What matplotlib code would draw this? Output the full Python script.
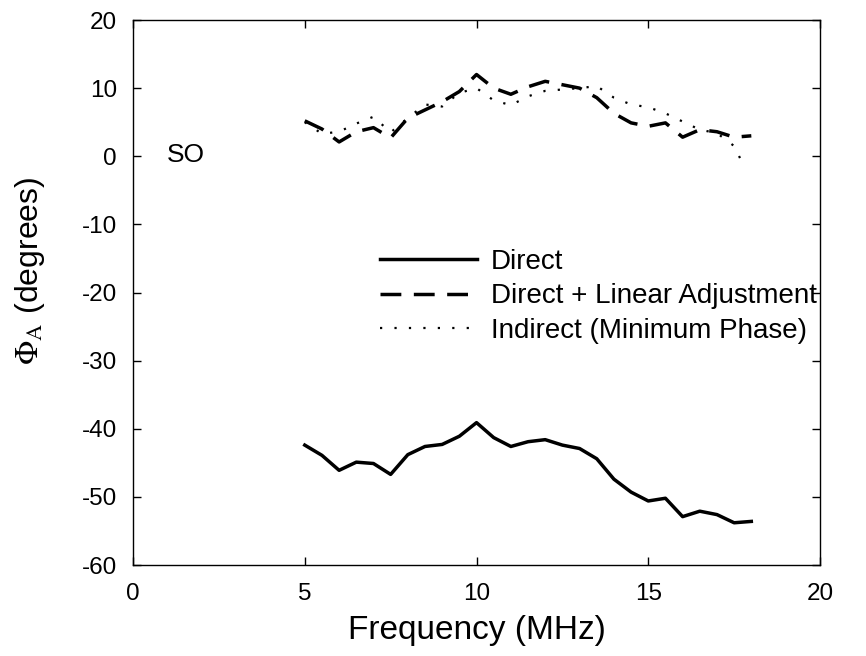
import numpy as np
import matplotlib
matplotlib.use("Agg")
import matplotlib.pyplot as plt

plt.rcParams['font.family'] = ['Liberation Sans', 'DejaVu Sans']
plt.rcParams['mathtext.fontset'] = 'stix'
plt.rcParams['axes.unicode_minus'] = False

freq = [5.0, 5.5, 6.0, 6.5, 7.0, 7.5, 8.0, 8.5, 9.0, 9.5, 10.0, 10.5, 11.0, 11.5,
        12.0, 12.5, 13.0, 13.5, 14.0, 14.5, 15.0, 15.5, 16.0, 16.5, 17.0, 17.5, 18.0]

direct = [-42.4, -43.9, -46.1, -44.9, -45.1, -46.7, -43.8, -42.6, -42.3, -41.1, -39.1,
          -41.3, -42.6, -41.9, -41.6, -42.4, -42.9, -44.4, -47.4, -49.3, -50.6, -50.2,
          -52.9, -52.1, -52.6, -53.8, -53.6]

direct_lin = [5.2, 4.0, 2.1, 3.6, 4.2, 2.7, 5.6, 6.8, 8.0, 9.5, 12.0, 10.0, 9.1, 10.2,
              11.0, 10.5, 10.0, 8.6, 6.3, 4.9, 4.4, 4.9, 2.8, 3.9, 3.6, 2.8, 3.0]

indirect_freq = [5.0, 5.5, 6.0, 6.5, 7.0, 7.5, 8.0, 8.5, 9.0, 9.5, 10.0, 10.5, 11.0, 11.5,
                 12.0, 12.5, 13.0, 13.5, 14.0, 14.5, 15.0, 15.5, 16.0, 16.5, 17.0, 17.5, 17.8]
indirect = [5.0, 3.3, 3.6, 4.8, 5.8, 3.5, 5.6, 7.6, 7.3, 9.3, 10.0, 8.2, 7.5, 8.8,
            9.6, 9.8, 10.0, 10.3, 8.6, 7.6, 7.2, 6.3, 5.1, 3.9, 3.4, 1.5, -1.6]

labels = ['Direct', 'Direct + Linear Adjustment', 'Indirect (Minimum Phase)']

fig = plt.figure(figsize=(8.66, 6.56), dpi=100)
ax = fig.add_axes([0.1536, 0.1387, 0.7933, 0.8308])

ax.plot(freq, direct, color='black', lw=2.5, label=labels[0])
ax.plot(freq, direct_lin, color='black', lw=2.5, linestyle=(0, (6, 3.6)), label=labels[1])
ax.plot(indirect_freq, indirect, color='black', lw=1.6, linestyle=(0, (1, 5.5)), label=labels[2])

ax.set_xlim(0, 20)
ax.set_ylim(-60, 20)
ax.set_xticks([0, 5, 10, 15, 20])
ax.set_yticks(np.arange(-60, 21, 10))
ax.tick_params(direction='in', top=True, right=True, labelsize=17.5, length=6, width=1)
ax.tick_params(axis='x', pad=13)
ax.tick_params(axis='y', pad=11.5)
for s in ax.spines.values():
    s.set_linewidth(1.0)

ax.set_xlabel('Frequency (MHz)', fontsize=24, labelpad=7)
ax.set_ylabel(r'$\Phi_{\mathrm{A}}$ (degrees)', fontsize=23)
ax.yaxis.set_label_coords(-0.125, 0.54)

ax.text(0.98, 0.2, 'SO', fontsize=19, ha='left', va='center')

leg = ax.legend(loc='upper left', bbox_to_anchor=(0.351, 0.59), frameon=False,
                fontsize=20, handlelength=3.5, labelspacing=0.3, handletextpad=0.5,
                borderaxespad=0, borderpad=0.2)

fig.savefig('out.png', dpi=100)
